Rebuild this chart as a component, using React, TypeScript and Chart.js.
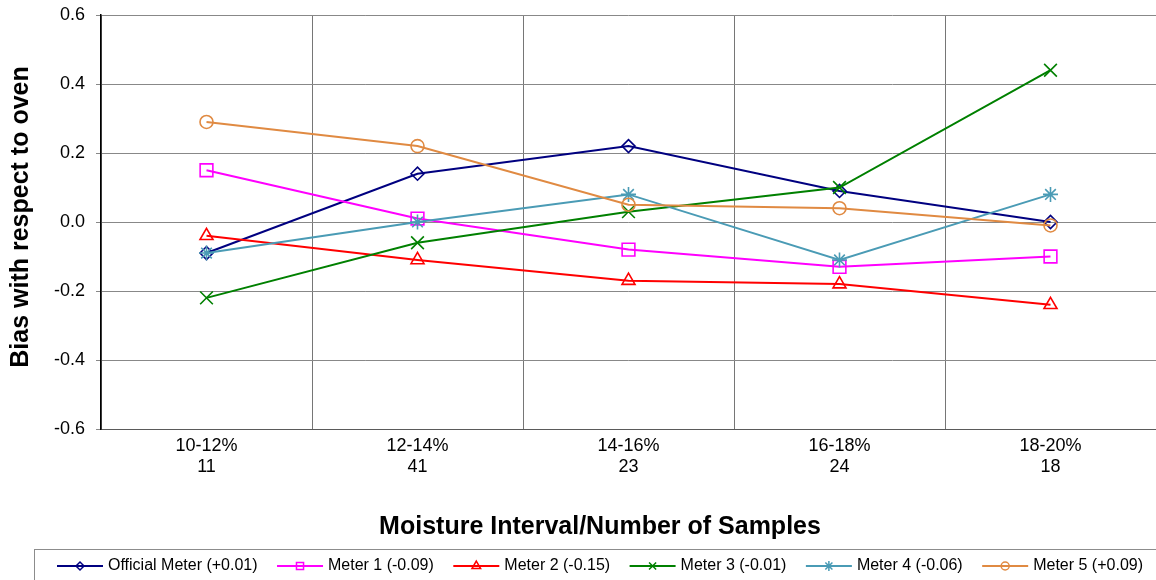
import React, { useEffect, useRef } from 'react';
import { Chart, registerables } from 'chart.js';
import { drawPoint } from 'chart.js/helpers';

Chart.register(...registerables);

const categories: string[][] = [
  ['10-12%', '11'],
  ['12-14%', '41'],
  ['14-16%', '23'],
  ['16-18%', '24'],
  ['18-20%', '18'],
];

const seriesNames = [
  'Official Meter (+0.01)',
  'Meter 1 (-0.09)',
  'Meter 2 (-0.15)',
  'Meter 3 (-0.01)',
  'Meter 4 (-0.06)',
  'Meter 5 (+0.09)',
];

const officialMeter = [-0.09, 0.14, 0.22, 0.09, 0.0];
const meter1 = [0.15, 0.01, -0.08, -0.13, -0.1];
const meter2 = [-0.04, -0.11, -0.17, -0.18, -0.24];
const meter3 = [-0.22, -0.06, 0.03, 0.1, 0.44];
const meter4 = [-0.09, 0.0, 0.08, -0.11, 0.08];
const meter5 = [0.29, 0.22, 0.05, 0.04, -0.01];

const seriesValues = [officialMeter, meter1, meter2, meter3, meter4, meter5];

const seriesColors = ['#000080', '#FF00FF', '#FF0000', '#008000', '#4A9BB5', '#E08A42'];
const seriesMarkers = ['rectRot', 'rect', 'triangle', 'crossRot', 'star', 'circle'];
const markerRadius = [6.5, 9, 7.5, 9, 7.5, 6.5];
const legendMarkerRadius = [4, 5, 5, 5, 5, 4];

const yMin = -0.6;
const yMax = 0.6;
const yStep = 0.2;

const xTitle = 'Moisture Interval/Number of Samples';
const yTitle = 'Bias with respect to oven';

const FONT = '"Liberation Sans", Arial, Helvetica, sans-serif';

const decorPlugin = {
  id: 'decor',
  afterDraw(chart: any) {
    const ctx: CanvasRenderingContext2D = chart.ctx;
    ctx.save();
    // X axis title
    ctx.fillStyle = '#000';
    ctx.font = `bold 25px ${FONT}`;
    ctx.textAlign = 'center';
    ctx.textBaseline = 'alphabetic';
    ctx.fillText(xTitle, 600, 534);
    // Y axis title
    ctx.save();
    ctx.translate(28, 217);
    ctx.rotate(-Math.PI / 2);
    ctx.fillText(yTitle, 0, 0);
    ctx.restore();

    // Legend box
    ctx.strokeStyle = '#8c8c8c';
    ctx.lineWidth = 1;
    ctx.strokeRect(34.5, 549.5, 1200, 100);

    // Legend items
    ctx.font = `16px ${FONT}`;
    const lineLen = 46;
    const gapText = 5;
    const startX = 57;
    const endX = 1143;
    const widths = seriesNames.map((n) => ctx.measureText(n).width);
    const used = widths.reduce((a, b) => a + b, 0) + seriesNames.length * (lineLen + gapText);
    const gapItem = (endX - startX - used) / (seriesNames.length - 1);
    let x = startX;
    const y = 566;
    ctx.textAlign = 'left';
    ctx.textBaseline = 'middle';
    seriesNames.forEach((name, i) => {
      ctx.strokeStyle = seriesColors[i];
      ctx.lineWidth = 2;
      ctx.beginPath();
      ctx.moveTo(x, y);
      ctx.lineTo(x + lineLen, y);
      ctx.stroke();
      ctx.fillStyle = 'rgba(0,0,0,0)';
      ctx.lineWidth = 1.5;
      drawPoint(
        ctx,
        { pointStyle: seriesMarkers[i] as any, rotation: 0, radius: legendMarkerRadius[i], borderWidth: 1.5 },
        x + lineLen / 2,
        y
      );
      ctx.fillStyle = '#000';
      ctx.fillText(name, x + lineLen + gapText, y);
      x += lineLen + gapText + widths[i] + gapItem;
    });
    ctx.restore();
  },
};

export default function App() {
  const canvasRef = useRef<HTMLCanvasElement | null>(null);

  useEffect(() => {
    document.body.style.margin = '0';
    const canvas = canvasRef.current;
    if (!canvas) return;
    const chart = new Chart(canvas, {
      type: 'line',
      data: {
        labels: categories,
        datasets: seriesValues.map((vals, i) => ({
          label: seriesNames[i],
          data: vals,
          borderColor: seriesColors[i],
          backgroundColor: 'rgba(0,0,0,0)',
          borderWidth: 2,
          tension: 0,
          fill: false,
          pointStyle: seriesMarkers[i] as any,
          pointRadius: markerRadius[i],
          pointBorderColor: seriesColors[i],
          pointBackgroundColor: 'rgba(0,0,0,0)',
          pointBorderWidth: 1.6,
          order: seriesValues.length - i,
        })),
      },
      options: {
        animation: false,
        responsive: false,
        maintainAspectRatio: false,
        devicePixelRatio: 1,
        layout: { autoPadding: false, padding: { top: 15, left: 0, right: -1, bottom: 0 } },
        plugins: {
          legend: { display: false },
          tooltip: { enabled: false },
          title: { display: false },
        },
        scales: {
          x: {
            type: 'category',
            offset: true,
            grid: {
              offset: true,
              color: '#767676',
              lineWidth: 1,
              drawTicks: false,
            },
            border: { color: '#5a5a5a', width: 1 },
            ticks: {
              color: '#000',
              font: { family: FONT, size: 18, lineHeight: 1.2 },
              padding: 6,
              maxRotation: 0,
              autoSkip: false,
            },
            afterFit(scale: any) {
              scale.height = 151;
              scale.paddingLeft = 0;
              scale.paddingRight = 0;
            },
          },
          y: {
            min: yMin,
            max: yMax,
            grid: {
              color: '#888888',
              lineWidth: 1,
              drawTicks: true,
              tickLength: 5,
            },
            border: { color: '#000', width: 1.5 },
            ticks: {
              stepSize: yStep,
              color: '#000',
              font: { family: FONT, size: 18 },
              padding: 11,
              callback: (v: any) => Number(v).toFixed(1),
            },
            afterFit(scale: any) {
              scale.width = 101;
              scale.paddingTop = 0;
              scale.paddingBottom = 0;
            },
          },
        },
      },
      plugins: [decorPlugin],
    });
    return () => chart.destroy();
  }, []);

  return <canvas ref={canvasRef} width={1156} height={580} style={{ display: 'block' }} />;
}
